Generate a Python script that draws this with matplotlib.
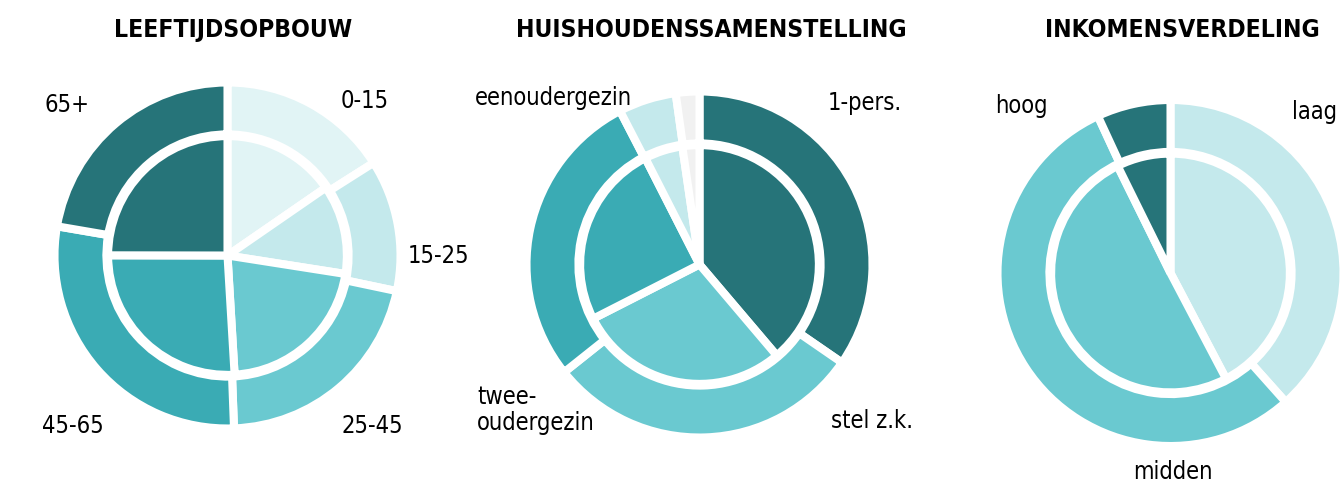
import matplotlib
matplotlib.use("Agg")
import matplotlib.pyplot as plt

W, H = 1344, 486

# ---------------- data ----------------
titles = ["LEEFTIJDSOPBOUW", "HUISHOUDENSSAMENSTELLING", "INKOMENSVERDELING"]

age_labels = ["0-15", "15-25", "25-45", "45-65", "65+"]
age_inner = [15.4, 12.1, 21.6, 26.0, 25.0]
age_outer = [16.0, 12.3, 21.1, 28.3, 22.3]

hh_labels = ["1-pers.", "stel z.k.", "twee-\noudergezin", "eenoudergezin", ""]
hh_inner = [38.8, 28.7, 25.0, 5.2, 2.3]
hh_outer = [34.6, 29.7, 28.1, 5.4, 2.2]

inc_labels = ["laag", "midden", "hoog"]
inc_inner = [42.3, 50.4, 7.3]
inc_outer = [38.4, 54.7, 6.9]

# ---------------- style / layout ----------------
DARK = "#267479"
TEAL = "#3AABB4"
MID = "#6AC9D0"
LIGHT = "#C4E9EC"
VLIGHT = "#E1F4F5"
GREY = "#F1F1F1"

age_colors = [VLIGHT, LIGHT, MID, TEAL, DARK]
hh_colors = [DARK, MID, TEAL, LIGHT, GREY]
inc_colors = [LIGHT, MID, DARK]

FONT = dict(family="DejaVu Sans", stretch="condensed")

charts = [
    dict(title=titles[0], labels=age_labels, inner=age_inner, outer=age_outer,
         colors=age_colors, center=(227.5, 255.5), title_x=233.5,
         label_pos=[(365, 108, "center"), (438.5, 263, "center"),
                    (372.5, 433, "center"), (73, 433, "center"),
                    (67.5, 111.5, "center")]),
    dict(title=titles[1], labels=hh_labels, inner=hh_inner, outer=hh_outer,
         colors=hh_colors, center=(699.5, 264.5), title_x=711,
         label_pos=[(865, 110, "center"), (872, 428, "center"),
                    (477, 430, "left"), (553.5, 105, "center"), (0, 0, "center")]),
    dict(title=titles[2], labels=inc_labels, inner=inc_inner, outer=inc_outer,
         colors=inc_colors, center=(1170.5, 273), title_x=1182,
         label_pos=[(1314, 119, "center"), (1172.5, 479, "center"),
                    (1021.5, 112.5, "center")]),
]

R = 173.0      # outer radius in pixels
L = 1.5        # half axis extent in radius units
LW = 5.8       # white separator width (pt)

fig = plt.figure(figsize=(W / 100, H / 100), dpi=100)

for ch in charts:
    cx, cy = ch["center"]
    S = 2 * L * R
    ax = fig.add_axes([(cx - S / 2) / W, (H - cy - S / 2) / H, S / W, S / H])
    ax.pie(ch["outer"], radius=1.0, colors=ch["colors"], startangle=90,
           counterclock=False,
           wedgeprops=dict(width=0.30, edgecolor="white", linewidth=LW,
                           joinstyle="bevel"))
    ax.pie(ch["inner"], radius=0.69, colors=ch["colors"], startangle=90,
           counterclock=False,
           wedgeprops=dict(edgecolor="white", linewidth=LW, joinstyle="bevel"))
    ax.set_xlim(-L, L)
    ax.set_ylim(-L, L)
    ax.set_aspect("equal")
    ax.axis("off")

    fig.text(ch["title_x"] / W, 1 - 37 / H, ch["title"], ha="center",
             va="baseline", fontsize=17.7, fontweight="bold", **FONT)

    for lab, (px, py, ha) in zip(ch["labels"], ch["label_pos"]):
        if not lab:
            continue
        fig.text(px / W, 1 - py / H, lab, ha=ha, va="baseline",
                 fontsize=17, linespacing=1.12, **FONT)

fig.savefig("out.png", dpi=100)
